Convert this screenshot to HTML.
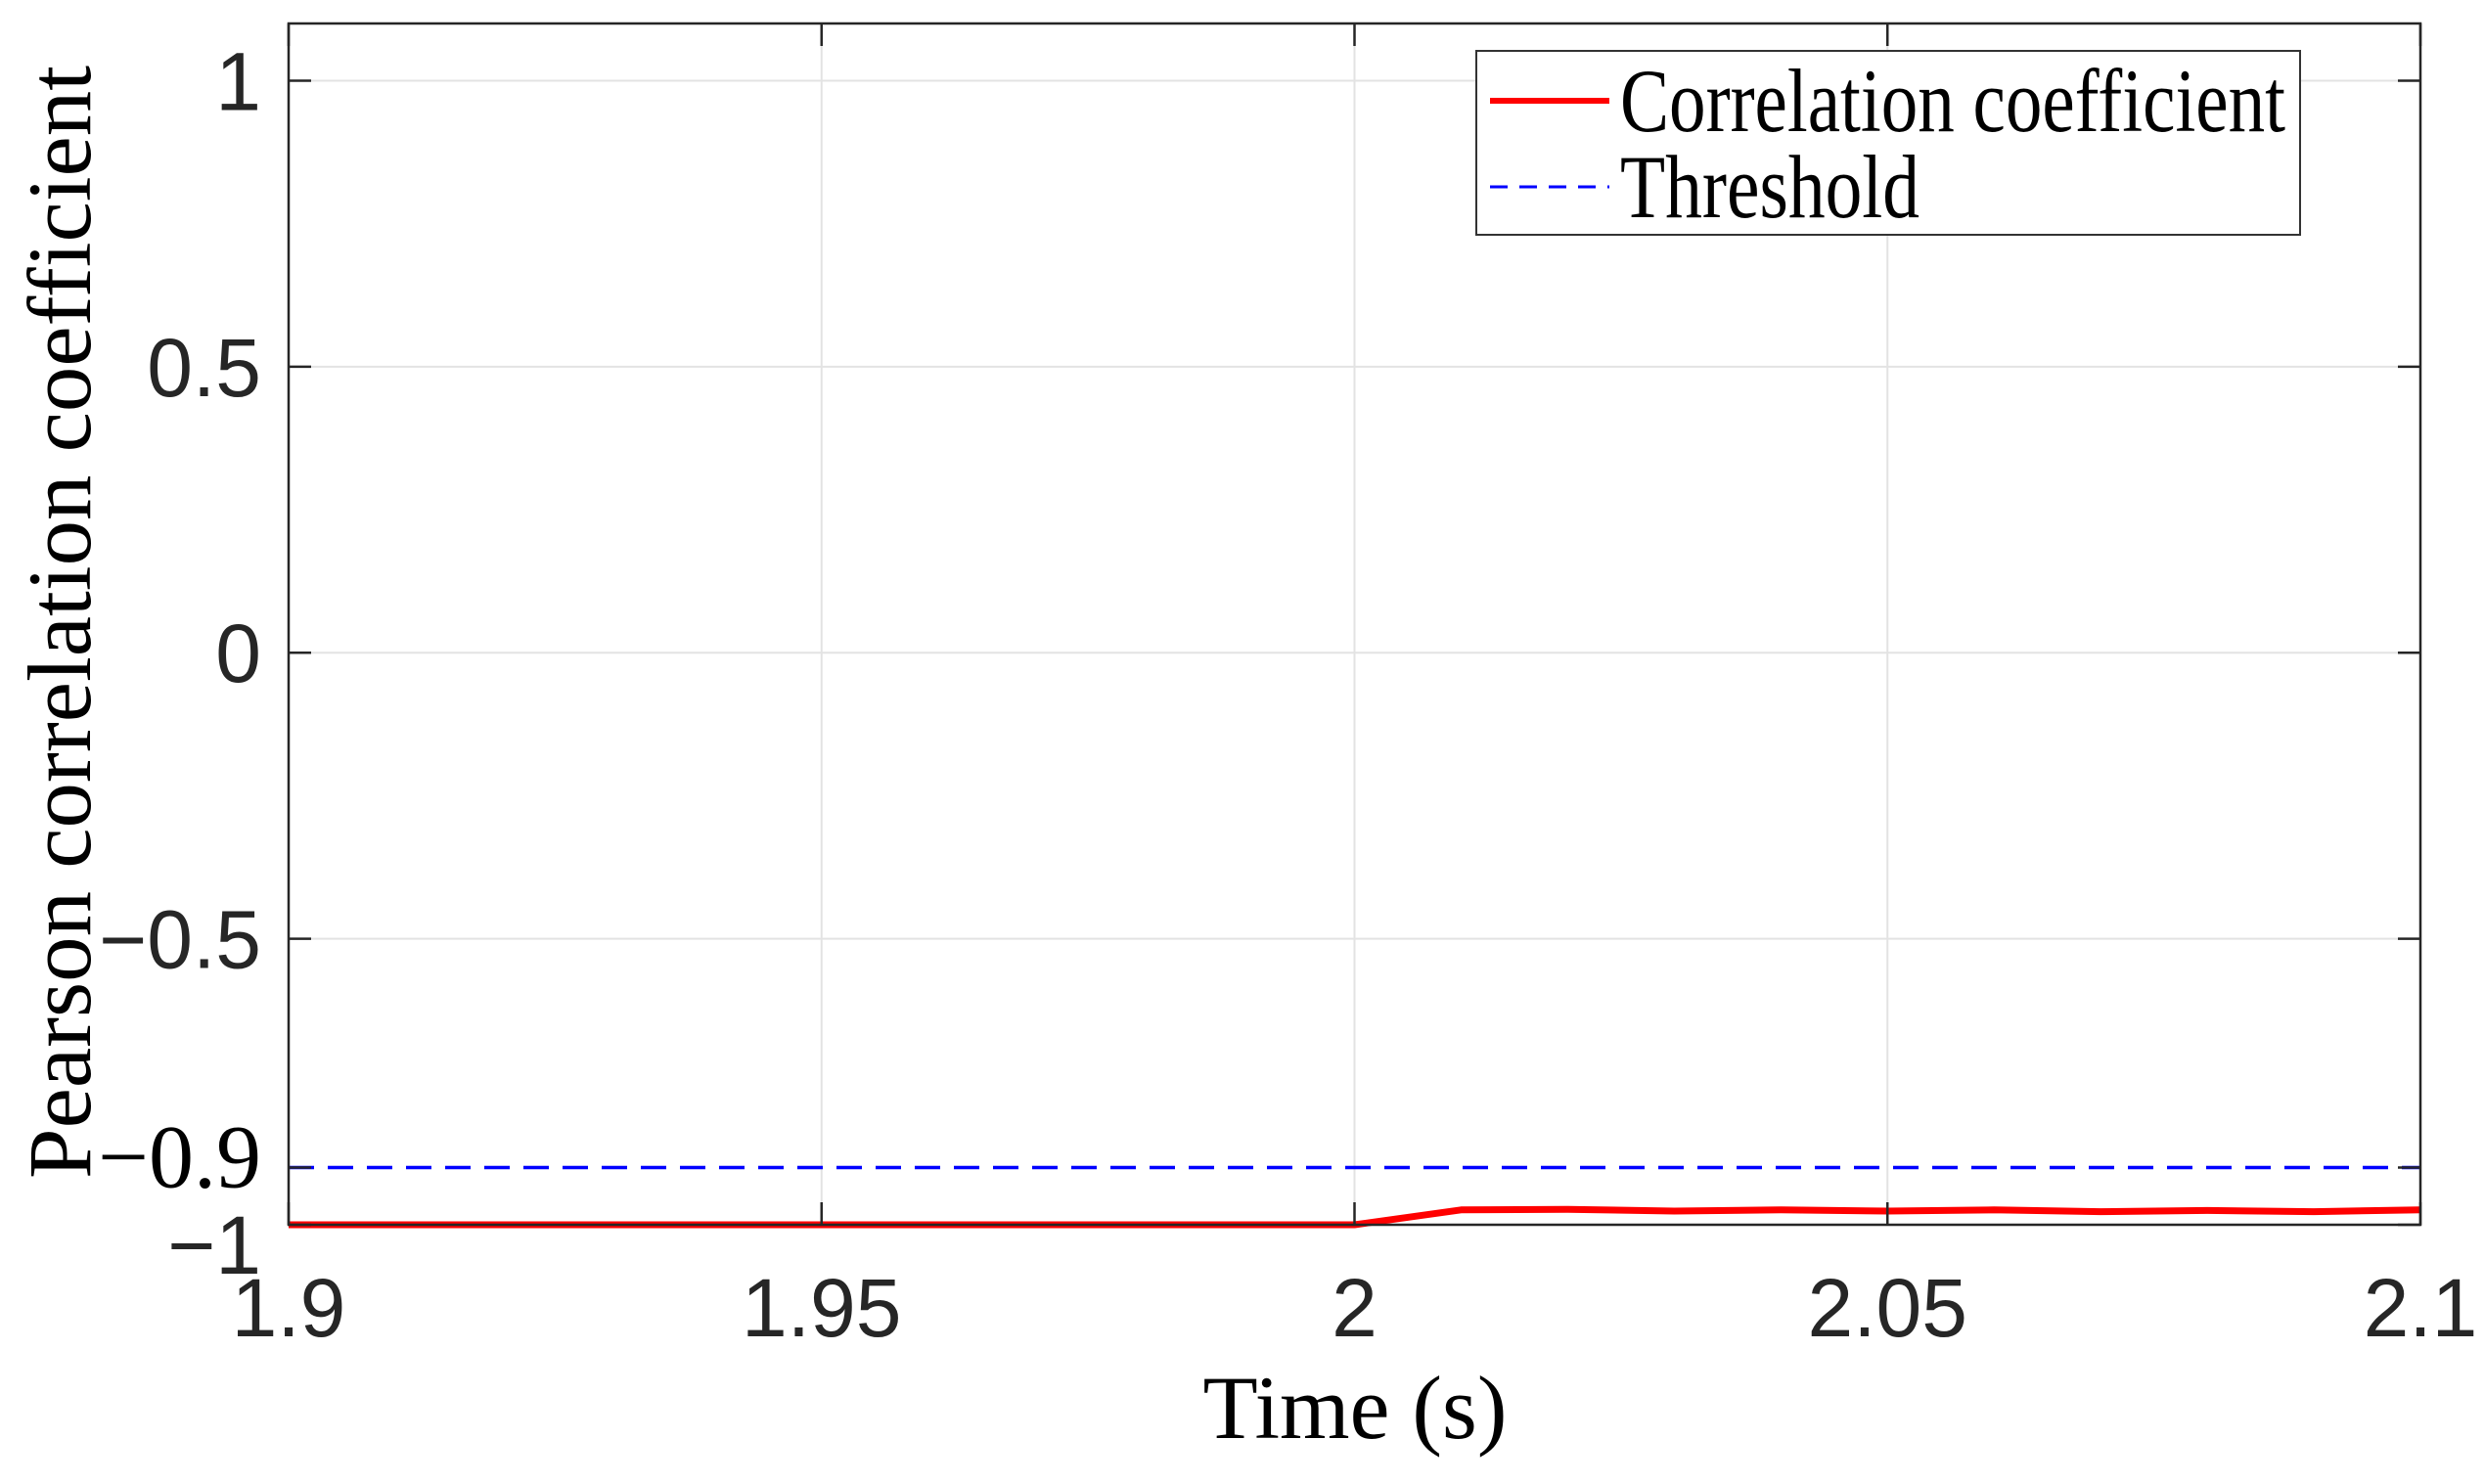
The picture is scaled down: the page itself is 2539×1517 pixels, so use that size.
<!DOCTYPE html>
<html><head><meta charset="utf-8"><style>
html,body{margin:0;padding:0;background:#fff;}
svg{display:block;}
.tick{font-family:"Liberation Sans",Arial,sans-serif;font-size:84px;fill:#262626;}
.lab{font-family:"Liberation Serif","Times New Roman",serif;font-size:92px;fill:#000;}
</style></head><body>
<svg id="chart" width="2539" height="1517" viewBox="0 0 2539 1517" xmlns="http://www.w3.org/2000/svg">
<rect x="0" y="0" width="2539" height="1517" fill="#fff"/>
<g id="grid"></g>
<g id="series"></g>
<g id="axes"></g>
<text class="lab" x="1385" y="1470" text-anchor="middle">Time (s)</text>
<text class="lab" transform="translate(92,636) rotate(-90)" text-anchor="middle" textLength="1138" lengthAdjust="spacingAndGlyphs">Pearson correlation coefficient</text>
<g>
<rect x="1509" y="52" width="842" height="188" fill="#fff" stroke="#333" stroke-width="2"/>
<line x1="1523" y1="103" x2="1645" y2="103" stroke="#ff0000" stroke-width="6"/>
<text class="lab" x="1656" y="134" font-size="80" textLength="680" lengthAdjust="spacingAndGlyphs">Correlation coefficient</text>
<line x1="1523" y1="191" x2="1645" y2="191" stroke="#0000ff" stroke-width="3" stroke-dasharray="18,12"/>
<text class="lab" x="1656" y="222" font-size="80" textLength="306" lengthAdjust="spacingAndGlyphs">Threshold</text>
</g>
</svg>
<script>
const xTicks = [1.9, 1.95, 2, 2.05, 2.1];
const xTickLabels = ["1.9", "1.95", "2", "2.05", "2.1"];
const yTicks = [1, 0.5, 0, -0.5, -0.9, -1];
const yTickLabels = ["1", "0.5", "0", "\u22120.5", "\u22120.9", "\u22121"];
const yGrid = [1, 0.5, 0, -0.5];
const timeValues = [1.9, 1.91, 1.92, 1.93, 1.94, 1.95, 1.96, 1.97, 1.98, 1.99, 2.0, 2.01, 2.02, 2.03, 2.04, 2.05, 2.06, 2.07, 2.08, 2.09, 2.1];
const corrValues = [-1, -1, -1, -1, -1, -1, -1, -1, -1, -1, -1, -0.974, -0.973, -0.976, -0.974, -0.976, -0.974, -0.977, -0.975, -0.977, -0.974];
const thresholdValue = -0.9;

const L = 295, R = 2474, T = 24, B = 1252;
const xMin = 1.9, xMax = 2.1, yMin = -1, yMax = 1.1;
const NS = "http://www.w3.org/2000/svg";
function sx(v){ return L + (v - xMin) / (xMax - xMin) * (R - L); }
function sy(v){ return B - (v - yMin) / (yMax - yMin) * (B - T); }
function mk(tag, attrs, parent){
  const e = document.createElementNS(NS, tag);
  for (const k in attrs) e.setAttribute(k, attrs[k]);
  parent.appendChild(e);
  return e;
}
const grid = document.getElementById('grid');
const axes = document.getElementById('axes');
const series = document.getElementById('series');

xTicks.forEach(function(v){
  const g = mk('line', {x1: sx(v), x2: sx(v), y1: T, y2: B, stroke: '#e3e3e3', 'stroke-width': 2}, grid);
  
  
});
yGrid.forEach(function(v){
  const g = mk('line', {x1: L, x2: R, y1: sy(v), y2: sy(v), stroke: '#e3e3e3', 'stroke-width': 2}, grid);
  
  
});

const th = mk('line', {x1: L, x2: R, y1: sy(thresholdValue), y2: sy(thresholdValue), stroke: '#0000ff', 'stroke-width': 3.5, 'stroke-dasharray': '26,14'}, series);



const pts = timeValues.map(function(t, i){ return sx(t).toFixed(1) + ',' + sy(corrValues[i]).toFixed(1); }).join(' ');
const cl = mk('polyline', {points: pts, fill: 'none', stroke: '#ff0000', 'stroke-width': 7, 'stroke-linejoin': 'round'}, series);



const box = mk('rect', {x: L, y: T, width: R - L, height: B - T, fill: 'none', stroke: '#262626', 'stroke-width': 2.5}, axes);



xTicks.forEach(function(v, i){
  const x = sx(v);
  const t1 = mk('line', {x1: x, x2: x, y1: B, y2: B - 23, stroke: '#262626', 'stroke-width': 2.5}, axes);
  
  
  const t2 = mk('line', {x1: x, x2: x, y1: T, y2: T + 23, stroke: '#262626', 'stroke-width': 2.5}, axes);
  
  
  const tx = mk('text', {x: x, y: 1366, 'text-anchor': 'middle', class: 'tick'}, axes);
  tx.textContent = xTickLabels[i];
  
  
});
yTicks.forEach(function(v, i){
  const y = sy(v);
  const t1 = mk('line', {x1: L, x2: L + 23, y1: y, y2: y, stroke: '#262626', 'stroke-width': 2.5}, axes);
  
  
  const t2 = mk('line', {x1: R, x2: R - 23, y1: y, y2: y, stroke: '#262626', 'stroke-width': 2.5}, axes);
  
  
  let dy = 30;
  if (v === -0.9) dy = 20;
  if (v === -1) dy = 50;
  const tx = mk('text', {x: 267, y: y + dy, 'text-anchor': 'end', class: 'tick'}, axes);
  tx.textContent = yTickLabels[i];
  if (v === -0.9) tx.setAttribute('class', 'lab');
  
  
});
</script>
</body></html>
